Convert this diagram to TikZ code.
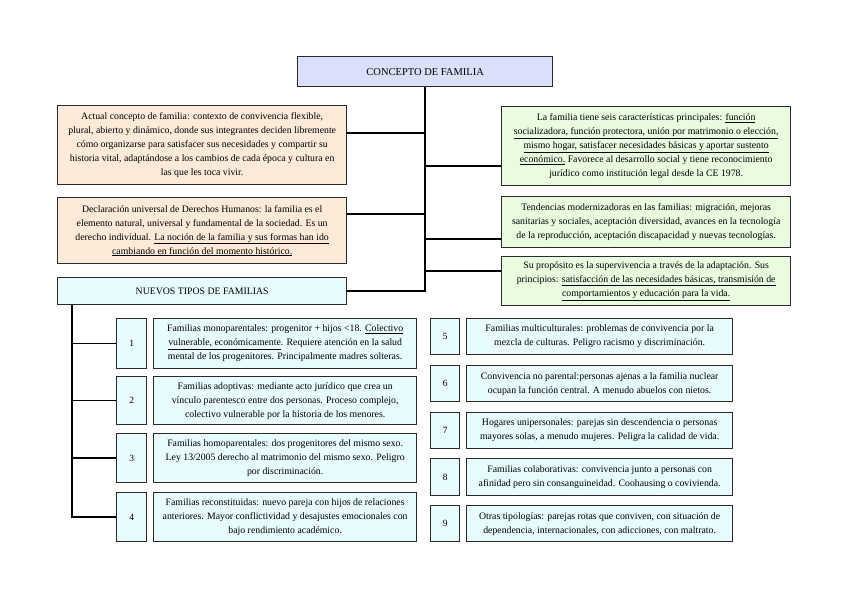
\documentclass[tikz,border=0pt]{standalone}
\usepackage{fontspec}
\setmainfont{Liberation Serif}
\usetikzlibrary{calc}
\definecolor{cTop}{HTML}{DADFFB}
\definecolor{cPeach}{HTML}{FDEAD9}
\definecolor{cGreen}{HTML}{EAFCE0}
\definecolor{cCyan}{HTML}{E8FBFD}
\definecolor{cLine}{HTML}{2A2A2A}
\newcommand{\ulx}[1]{\underline{#1}}
\tikzset{
  bx/.style={draw=cLine, line width=1.3pt, anchor=north west, align=center, inner sep=1pt,
    font=\fontsize{9.8}{14}\selectfont, text=black},
  topbox/.style={bx, fill=cTop, font=\fontsize{10.5}{14}\selectfont},
  peach/.style={bx, fill=cPeach},
  green/.style={bx, fill=cGreen},
  cyan/.style={bx, fill=cCyan},
  numbox/.style={bx, fill=cCyan, font=\fontsize{9.5}{12}\selectfont},
  conn/.style={draw=black, line width=1.6pt}
}
\begin{document}
\begin{tikzpicture}[x=1pt,y=-1pt]
\useasboundingbox[fill=white] (0,0) rectangle (848,599);
% top
\node[topbox, minimum width=255pt, minimum height=30pt] (C) at (297,56) {CONCEPTO DE FAMILIA};
% left
\node[peach, minimum width=289pt, minimum height=79pt] (A) at (57,105) {Actual concepto de familia: contexto de convivencia flexible,\\ plural, abierto y dinámico, donde sus integrantes deciden libremente\\ cómo organizarse para satisfacer sus necesidades y compartir su\\ historia vital, adaptándose a los cambios de cada época y cultura en\\ las que les toca vivir.};
\node[peach, minimum width=289pt, minimum height=66pt] (B) at (57,197) {Declaración universal de Derechos Humanos: la familia es el\\ elemento natural, universal y fundamental de la sociedad. Es un\\ derecho individual. \ulx{La noción de la familia y sus formas han ido}\\ \ulx{cambiando en función del momento histórico.}};
\node[cyan, minimum width=289pt, minimum height=27pt] (N) at (57,277) {NUEVOS TIPOS DE FAMILIAS};
% right
\node[green, minimum width=289pt, minimum height=79pt] (G1) at (501,106) {La familia tiene seis características principales: \ulx{función}\\ \ulx{socializadora, función protectora, unión por matrimonio o elección,}\\ \ulx{mismo hogar, satisfacer necesidades básicas y aportar sustento}\\ \ulx{económico.} Favorece al desarrollo social y tiene reconocimiento\\ jurídico como institución legal desde la CE 1978.};
\node[green, minimum width=289pt, minimum height=51pt] (G2) at (501,196) {Tendencias modernizadoras en las familias: migración, mejoras\\ sanitarias y sociales, aceptación diversidad, avances en la tecnología\\ de la reproducción, aceptación discapacidad y nuevas tecnologías.};
\node[green, minimum width=289pt, minimum height=49pt] (G3) at (501,256) {Su propósito es la supervivencia a través de la adaptación. Sus\\ principios: \ulx{satisfacción de las necesidades básicas, transmisión de}\\ \ulx{comportamientos y educación para la vida.}};
% lower left
\node[numbox, minimum width=30pt, minimum height=50pt] (n1) at (116,318) {1};
\node[numbox, minimum width=30pt, minimum height=48pt] (n2) at (116,376) {2};
\node[numbox, minimum width=30pt, minimum height=49pt] (n3) at (116,433) {3};
\node[numbox, minimum width=30pt, minimum height=49pt] (n4) at (116,492) {4};
\node[cyan, minimum width=263pt, minimum height=50pt] (t1) at (153,318) {Familias monoparentales: progenitor + hijos <18. \ulx{Colectivo}\\ \ulx{vulnerable, económicamente}. Requiere atención en la salud\\ mental de los progenitores. Principalmente madres solteras.};
\node[cyan, minimum width=263pt, minimum height=48pt] (t2) at (153,376) {Familias adoptivas: mediante acto jurídico que crea un\\ vínculo parentesco entre dos personas. Proceso complejo,\\ colectivo vulnerable por la historia de los menores.};
\node[cyan, minimum width=263pt, minimum height=49pt] (t3) at (153,433) {Familias homoparentales: dos progenitores del mismo sexo.\\ Ley 13/2005 derecho al matrimonio del mismo sexo. Peligro\\ por discriminación.};
\node[cyan, minimum width=263pt, minimum height=49pt] (t4) at (153,492) {Familias reconstituidas: nuevo pareja con hijos de relaciones\\ anteriores. Mayor conflictividad y desajustes emocionales con\\ bajo rendimiento académico.};
% lower right
\node[numbox, minimum width=29pt, minimum height=36pt] (n5) at (430,318) {5};
\node[numbox, minimum width=29pt, minimum height=36pt] (n6) at (430,365) {6};
\node[numbox, minimum width=29pt, minimum height=36pt] (n7) at (430,412) {7};
\node[numbox, minimum width=29pt, minimum height=37pt] (n8) at (430,458) {8};
\node[numbox, minimum width=29pt, minimum height=36pt] (n9) at (430,505) {9};
\node[cyan, minimum width=266pt, minimum height=36pt] (t5) at (466,318) {Familias multiculturales: problemas de convivencia por la\\ mezcla de culturas. Peligro racismo y discriminación.};
\node[cyan, minimum width=266pt, minimum height=36pt] (t6) at (466,365) {Convivencia no parental:personas ajenas a la familia nuclear\\ ocupan la función central. A menudo abuelos con nietos.};
\node[cyan, minimum width=266pt, minimum height=36pt] (t7) at (466,412) {Hogares unipersonales: parejas sin descendencia o personas\\ mayores solas, a menudo mujeres. Peligra la calidad de vida.};
\node[cyan, minimum width=266pt, minimum height=37pt] (t8) at (466,458) {Familias colaborativas: convivencia junto a personas con\\ afinidad pero sin consanguineidad. Coohausing o covivienda.};
\node[cyan, minimum width=266pt, minimum height=36pt] (t9) at (466,505) {Otras tipologías: parejas rotas que conviven, con situación de\\ dependencia, internacionales, con adicciones, con maltrato.};
% connectors
\coordinate (yA) at (0,133);
\coordinate (yB) at (0,214);
\coordinate (yG1) at (0,166);
\coordinate (yG2) at (0,239);
\coordinate (yG3) at (0,271);
\coordinate (lt) at (72,0);
\draw[conn] (C.south) -- (C.south |- N.east) -- (N.east);
\draw[conn] (A.east |- yA) -- (C.south |- yA);
\draw[conn] (B.east |- yB) -- (C.south |- yB);
\draw[conn] (G1.west |- yG1) -- (C.south |- yG1);
\draw[conn] (G2.west |- yG2) -- (C.south |- yG2);
\draw[conn] (G3.west |- yG3) -- (C.south |- yG3);
\draw[conn] (lt |- N.south) -- (lt |- n4.west) -- (n4.west);
\draw[conn] (lt |- n1.west) -- (n1.west);
\draw[conn] (lt |- n2.west) -- (n2.west);
\draw[conn] (lt |- n3.west) -- (n3.west);
\end{tikzpicture}
\end{document}
